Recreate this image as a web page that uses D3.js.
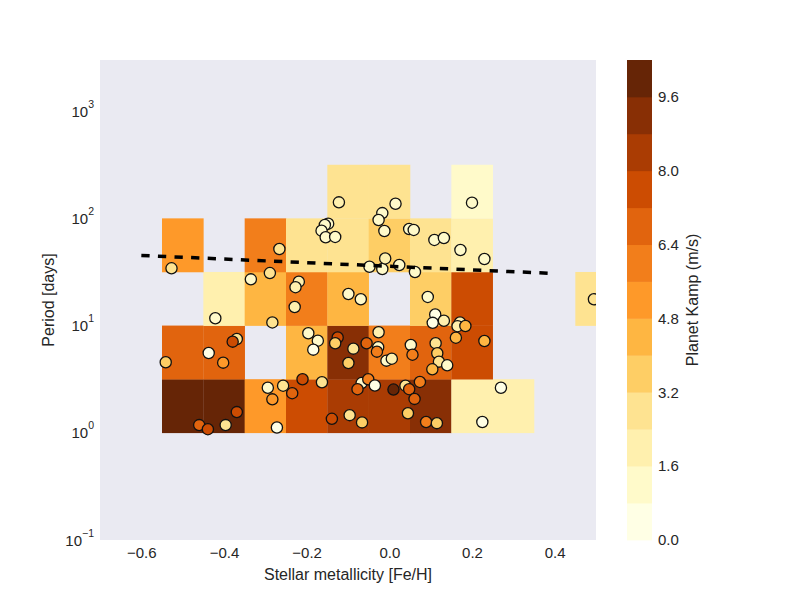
<!DOCTYPE html>
<html><head><meta charset="utf-8">
<script src="https://cdn.jsdelivr.net/npm/d3@7"></script>
<style>
body{margin:0;background:#fff}
text{font-family:"Liberation Sans",Arial,Helvetica,sans-serif;fill:#262626}
</style>
</head><body><svg id="c" width="800" height="600"></svg>
<script>
// ---------- data ----------
const xEdges = [-0.55,-0.45,-0.35,-0.25,-0.15,-0.05,0.05,0.15,0.25,0.35,0.45,0.55];
const yEdges = [1, 3.162, 10, 31.62, 100, 316.2];
// mean planet Kamp per cell; rows = period bins (low -> high), cols = [Fe/H] bins; null = empty
const cellRow0 = [10.0,10.0,5.2,7.6,8.4,8.4,9.2,2.0,2.0,null,null];
const cellRow1 = [6.8,6.8,null,4.4,9.2,6.0,6.8,7.6,null,null,null];
const cellRow2 = [null,2.0,4.4,6.0,4.4,null,3.6,7.6,null,null,2.8];
const cellRow3 = [5.2,null,6.0,2.8,2.8,3.6,2.8,2.0,null,null,null];
const cellRow4 = [null,null,null,null,2.8,2.8,null,1.2,null,null,null];
const cellRows = [cellRow0,cellRow1,cellRow2,cellRow3,cellRow4];

const pointFeH = [-0.527,-0.266,-0.289,-0.335,-0.122,0.015,-0.017,-0.026,-0.012,-0.148,-0.156,-0.164,-0.154,-0.131,
 0.048,0.059,0.109,0.132,0.172,0.200,0.230,-0.048,-0.017,-0.010,0.024,0.062,-0.219,-0.227,-0.099,-0.069,-0.229,0.093,0.495,
 -0.421,-0.283,-0.369,-0.379,-0.437,-0.402,-0.541,-0.196,-0.173,-0.184,-0.125,-0.131,-0.099,-0.087,-0.055,-0.026,-0.027,-0.030,
 -0.007,0.006,0.052,0.056,0.111,0.105,0.132,0.171,0.165,0.184,0.161,0.230,0.112,0.116,0.120,0.140,0.104,
 -0.294,-0.257,-0.283,-0.235,-0.210,-0.163,-0.369,-0.460,-0.439,-0.396,-0.272,-0.139,-0.096,-0.066,-0.067,-0.051,-0.035,-0.077,
 0.010,0.039,0.048,0.074,0.061,0.045,0.089,0.115,0.270,0.225];
const pointPeriod = [34.2,51.8,30.9,27.0,141,137,112,96.6,76.3,89.2,86.8,76.8,66.6,67.1,
 79.6,78.0,62.9,65.6,50.7,140,41.8,35.4,33.7,42.3,36.7,31.6,25.7,22.8,19.7,17.6,14.9,18.5,17.6,
 11.7,10.7,7.5,7.08,5.55,4.51,4.55,8.48,7.23,5.96,7.74,6.84,4.48,6.09,6.84,8.66,6.29,5.71,
 4.71,4.91,6.59,5.35,12.7,10.6,11.1,10.7,9.87,9.91,7.71,7.18,6.85,5.52,4.61,4.26,3.91,
 2.63,2.75,2.05,2.34,3.16,2.96,1.56,1.18,1.08,1.18,1.12,1.35,1.46,1.25,2.91,3.16,2.76,2.55,
 2.53,2.75,2.55,2.98,2.07,1.52,1.26,1.23,2.63,1.26];
const pointKamp = [2.8,2.8,2.8,1.2,2.0,1.2,1.2,1.2,1.2,1.2,1.2,1.2,1.2,1.2,
 1.2,1.2,1.2,1.2,1.2,1.2,1.2,1.2,1.2,2.0,1.2,1.2,2.0,2.0,1.2,1.2,2.0,1.2,2.8,
 1.2,2.8,2.8,7.6,0.4,5.2,3.6,1.2,1.2,0.4,7.6,3.6,3.6,2.8,6.8,2.0,1.2,6.0,
 1.2,2.0,1.2,6.0,0.4,0.4,2.0,2.0,2.0,4.4,4.4,4.4,2.8,3.6,2.8,1.2,4.4,
 1.2,2.8,5.2,6.8,7.6,2.8,7.6,6.8,7.6,2.8,0.4,7.6,2.8,3.6,1.2,6.0,0.4,6.8,
 10.0,2.8,6.8,6.0,6.8,3.6,6.0,3.6,0.4,0.4];

const trendFeH = [-0.6, 0.4];
const trendPeriod = [45.1, 30.6];

const xTicks = [-0.6,-0.4,-0.2,0.0,0.2,0.4];
const yTickExps = [-1,0,1,2,3];
const cbTicks = [0.0,1.6,3.2,4.8,6.4,8.0,9.6];
const cbLevels = d3.range(0, 10.41, 0.8).map(v => +v.toFixed(1));

// ---------- setup ----------
const svg = d3.select("#c");
const L = 100, R = 596, T = 60, B = 540;
const x = d3.scaleLinear().domain([-0.7, 0.5]).range([L, R]);
const y = d3.scaleLog().domain([0.1, 3000]).range([B, T]);

const brewer = ["#ffffe5","#fff7bc","#fee391","#fec44f","#fe9929","#ec7014","#cc4c02","#993404","#662506"];
const cmap = d3.scaleLinear().domain(d3.range(9).map(i => i/8)).range(brewer).interpolate(d3.interpolateRgb);
const nBands = cbLevels.length - 1; // 13
const color = v => {
  let i = Math.floor(v / 0.8 + 1e-9);
  i = Math.max(0, Math.min(nBands - 1, i));
  return cmap(i / (nBands - 1));
};

svg.append("defs").append("clipPath").attr("id","clip")
  .append("rect").attr("x",L).attr("y",T).attr("width",R-L).attr("height",B-T);

svg.append("rect").attr("x",L).attr("y",T).attr("width",R-L).attr("height",B-T).attr("fill","#eaeaf2");

// cells
const cells = [];
cellRows.forEach((row, r) => row.forEach((v, c) => { if (v !== null) cells.push({r, c, v}); }));
svg.append("g").attr("clip-path","url(#clip)").selectAll("rect").data(cells).join("rect")
  .attr("x", d => x(xEdges[d.c]))
  .attr("width", d => x(xEdges[d.c+1]) - x(xEdges[d.c]) + 0.3)
  .attr("y", d => y(yEdges[d.r+1]))
  .attr("height", d => y(yEdges[d.r]) - y(yEdges[d.r+1]) + 0.3)
  .attr("fill", d => color(d.v));

// points
const pts = pointFeH.map((f, i) => ({f, p: pointPeriod[i], k: pointKamp[i]}));
svg.append("g").attr("clip-path","url(#clip)").selectAll("circle").data(pts).join("circle")
  .attr("cx", d => x(d.f)).attr("cy", d => y(d.p)).attr("r", 5.6)
  .attr("fill", d => color(d.k)).attr("stroke","#111").attr("stroke-width",1.3);

// trend line
const line = d3.line().x(d => x(d[0])).y(d => y(d[1]));
svg.append("path").datum(trendFeH.map((f,i) => [f, trendPeriod[i]]))
  .attr("d", line).attr("fill","none").attr("stroke","#000")
  .attr("stroke-width",3.5).attr("stroke-dasharray","8.3,8.3");

// x axis
const fmt = v => (v < 0 ? "\u2212" : "") + Math.abs(v).toFixed(1);
const xa = svg.append("g").attr("transform",`translate(0,${B})`)
  .call(d3.axisBottom(x).tickValues(xTicks).tickFormat(fmt).tickSize(0).tickPadding(7));
xa.select(".domain").remove();
xa.selectAll("text").style("font-size","15px").attr("fill","#262626");

// y axis
const ya = svg.append("g").attr("transform",`translate(${L},0)`)
  .call(d3.axisLeft(y).tickValues(yTickExps.map(e => Math.pow(10,e))).tickFormat("").tickSize(0));
ya.select(".domain").remove();
yTickExps.forEach(e => {
  const t = svg.append("text").attr("x", 94).attr("y", y(Math.pow(10,e)) + 5.5)
    .attr("text-anchor","end").style("font-size","15px");
  t.append("tspan").text("10");
  t.append("tspan").attr("dy",-9).style("font-size","10.5px").text(e < 0 ? "\u2212" + Math.abs(e) : String(e));
});

// axis labels
svg.append("text").attr("x",(L+R)/2).attr("y",580).attr("text-anchor","middle")
  .style("font-size","16px").text("Stellar metallicity [Fe/H]");
svg.append("text").attr("transform",`translate(54,${(T+B)/2}) rotate(-90)`).attr("text-anchor","middle")
  .style("font-size","16px").text("Period [days]");

// colorbar
const cbX = 627, cbW = 25;
const cy = d3.scaleLinear().domain([0, 10.4]).range([B, T]);
const bands = d3.range(nBands).map(i => ({lo: cbLevels[i], hi: cbLevels[i+1]}));
svg.append("g").selectAll("rect").data(bands).join("rect")
  .attr("x", cbX).attr("width", cbW)
  .attr("y", d => cy(d.hi)).attr("height", d => cy(d.lo) - cy(d.hi) + 0.4)
  .attr("fill", d => color((d.lo + d.hi)/2));
const ca = svg.append("g").attr("transform",`translate(${cbX+cbW},0)`)
  .call(d3.axisRight(cy).tickValues(cbTicks).tickFormat(d3.format(".1f")).tickSize(0).tickPadding(6));
ca.select(".domain").remove();
ca.selectAll("text").style("font-size","15px").attr("fill","#262626");
svg.append("text").attr("transform",`translate(698,${(T+B)/2}) rotate(-90)`).attr("text-anchor","middle")
  .style("font-size","16px").text("Planet Kamp (m/s)");
</script>
</body></html>
